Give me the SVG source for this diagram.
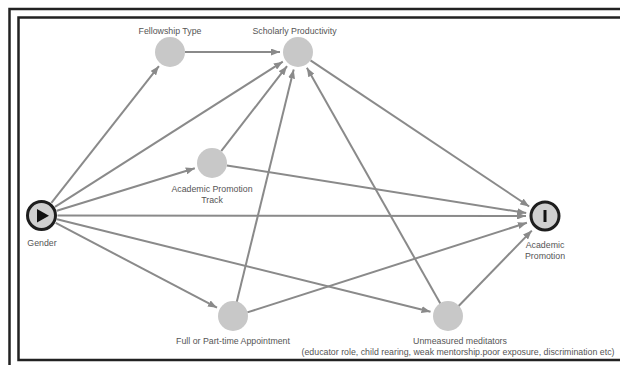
<svg xmlns="http://www.w3.org/2000/svg" width="620" height="365" viewBox="0 0 620 365">
<style>
.frame{fill:none;stroke:#222;stroke-width:2.5}
.node{fill:#c8c8c8}
.term{fill:#d0d0d0;stroke:#1e1e1e;stroke-width:3}
.lbl{font-family:"Liberation Sans",Arial,sans-serif;font-size:8.8px;fill:#555;text-anchor:middle}
.edge{stroke:#8a8a8a;stroke-width:2;fill:none;marker-end:url(#arr)}
</style>
<defs>
<marker id="arr" markerUnits="userSpaceOnUse" markerWidth="9" markerHeight="7" refX="9" refY="3.5" orient="auto">
<path d="M0,0 L9,3.5 L0,7 z" fill="#8a8a8a"/>
</marker>
</defs>
<rect width="620" height="365" fill="#fff"/>
<polyline class="frame" points="620,9 9.5,9 9.5,365"/>
<polyline class="frame" points="620,17.5 18.5,17.5 18.5,360 620,360"/>
<g id="connectors">
<line class="edge" x1="51.4" y1="202.9" x2="158.9" y2="66.1"/>
<line class="edge" x1="55" y1="206.9" x2="282.8" y2="61.7"/>
<line class="edge" x1="56.8" y1="210.8" x2="194.8" y2="168.3"/>
<line class="edge" x1="57.5" y1="215.5" x2="526" y2="216"/>
<line class="edge" x1="55.7" y1="222.9" x2="217" y2="307.7"/>
<line class="edge" x1="57" y1="219.3" x2="430.5" y2="311.7"/>
<line class="edge" x1="185" y1="52" x2="280" y2="52"/>
<line class="edge" x1="221.2" y1="151.1" x2="287" y2="66.2"/>
<line class="edge" x1="226.8" y1="165.4" x2="526.2" y2="213"/>
<line class="edge" x1="236.6" y1="302.4" x2="293.7" y2="69.5"/>
<line class="edge" x1="247.3" y1="312.4" x2="526.9" y2="222.8"/>
<line class="edge" x1="440.6" y1="304" x2="306.9" y2="67.7"/>
<line class="edge" x1="458.4" y1="306.2" x2="531.8" y2="230.6"/>
<line class="edge" x1="310.5" y1="60.3" x2="529.2" y2="206.5"/>
</g>
<g id="gender">
<circle class="term" cx="41.5" cy="215.5" r="14"/>
<path d="M37,209 L37,222.5 L49,215.8 z" fill="#111"/>
<text class="lbl" x="42" y="246">Gender</text>
</g>
<g id="academic-promotion">
<circle class="term" cx="545" cy="216" r="14"/>
<rect x="543.5" y="210" width="3" height="12" fill="#111"/>
<text class="lbl" x="545" y="248">Academic</text>
<text class="lbl" x="545" y="259">Promotion</text>
</g>
<g id="fellowship-type">
<circle class="node" cx="170" cy="52" r="15"/>
<text class="lbl" x="170" y="34">Fellowship Type</text>
</g>
<g id="scholarly-productivity">
<circle class="node" cx="298" cy="52" r="15"/>
<text class="lbl" x="294.5" y="34">Scholarly Productivity</text>
</g>
<g id="academic-promotion-track">
<circle class="node" cx="212" cy="163" r="15"/>
<text class="lbl" x="212" y="192">Academic Promotion</text>
<text class="lbl" x="212" y="203">Track</text>
</g>
<g id="appointment">
<circle class="node" cx="233" cy="316" r="15"/>
<text class="lbl" x="233" y="344">Full or Part-time Appointment</text>
</g>
<g id="unmeasured">
<circle class="node" cx="448" cy="316" r="15"/>
<text class="lbl" x="460" y="344">Unmeasured meditators</text>
<text class="lbl" x="458" y="355">(educator role, child rearing, weak mentorship.poor exposure, discrimination etc)</text>
</g>
</svg>
